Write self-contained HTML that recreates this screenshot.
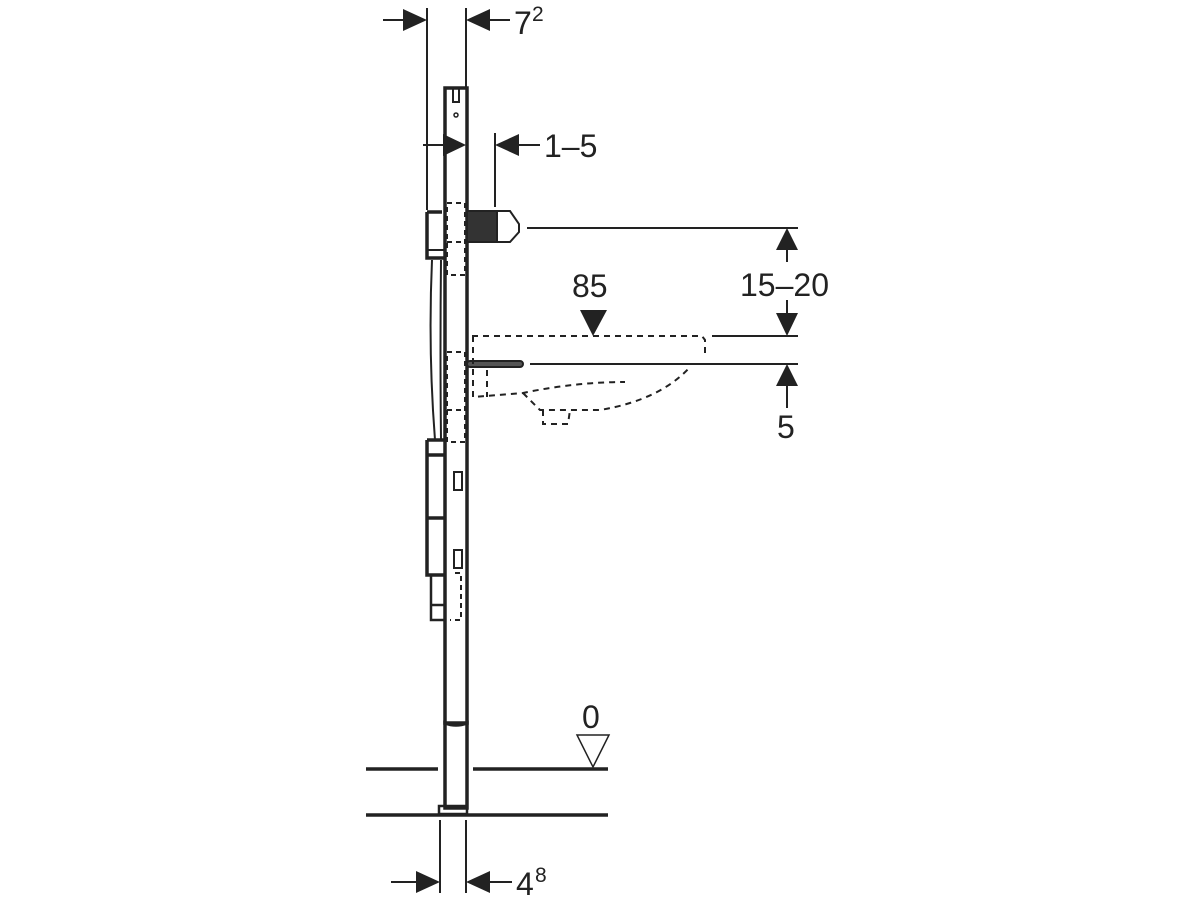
<!DOCTYPE html>
<html><head><meta charset="utf-8"><style>
html,body{margin:0;padding:0;background:#fff}
svg{display:block}
text{font-family:"Liberation Sans",sans-serif;fill:#222}
</style></head><body>
<svg width="1200" height="900" viewBox="0 0 1200 900" xmlns="http://www.w3.org/2000/svg">
<g stroke="#222" fill="none">
<line x1="427" y1="8" x2="427" y2="210" stroke-width="2"/>
<line x1="466" y1="8" x2="466" y2="88" stroke-width="2"/>
<line x1="383" y1="20" x2="405" y2="20" stroke-width="2"/>
<line x1="488" y1="20" x2="510" y2="20" stroke-width="2"/>
<line x1="423" y1="145" x2="445" y2="145" stroke-width="2"/>
<line x1="495" y1="133" x2="495" y2="207" stroke-width="2"/>
<line x1="517" y1="145" x2="540" y2="145" stroke-width="2"/>
<rect x="445" y="88" width="22" height="635" stroke-width="3.5"/>
<path d="M453 88 L453 102 L459 102 L459 88" stroke-width="2"/>
<circle cx="456" cy="115" r="2" stroke-width="1.5"/>
<path d="M445 723 Q456 727 467 723 L467 808 L445 808 Z" stroke-width="3.5"/>
<rect x="439" y="806" width="28" height="8" stroke-width="2.5"/>
<g stroke-dasharray="5,4" stroke-width="2">
<rect x="447" y="203" width="18" height="72"/>
<line x1="447" y1="242" x2="465" y2="242"/>
<rect x="447" y="352" width="18" height="90"/>
<line x1="447" y1="410" x2="465" y2="410"/>
<path d="M455 573 L461 573 L461 620 L450 620"/>
</g>
<path d="M427 212 L427 258 L445 258 M427 212 L442 212" stroke-width="3.5"/>
<path d="M428 250 L445 250" stroke-width="2"/>
<path d="M432 260 Q428 350 435 440 M441 260 Q440 350 441 440" stroke-width="2"/>
<path d="M427 440 L427 575 L445 575 M427 440 L445 440 M427 455 L445 455 M427 518 L445 518" stroke-width="3.5"/>
<path d="M431 575 L431 620 L445 620 M431 605 L445 605" stroke-width="2.5"/>
<rect x="454" y="472" width="8" height="18" stroke-width="2"/>
<rect x="454" y="550" width="8" height="18" stroke-width="2"/>
<rect x="467" y="211" width="30" height="31" fill="#333" stroke-width="2"/>
<path d="M497 211 L510 211 L519 224 L519 232 L510 242 L497 242 Z" fill="#fff" stroke-width="2"/>
<line x1="527" y1="228" x2="798" y2="228" stroke-width="2"/>
<rect x="467" y="361" width="56" height="6" rx="3" fill="#555" stroke-width="2"/>
<line x1="530" y1="364" x2="798" y2="364" stroke-width="2"/>
<line x1="712" y1="336" x2="798" y2="336" stroke-width="2"/>
<g stroke-dasharray="6,5" stroke-width="2">
<path d="M472 336 L702 336 L705 340 L705 358"/>
<path d="M473 336 L473 397 L523 393 Q575 382 625 382"/>
<path d="M487 370 L487 397"/>
<path d="M523 393 L540 410 L600 410 Q660 400 690 367"/>
<path d="M543 410 L543 424 L568 424 L570 410"/>
</g>
<line x1="787" y1="250" x2="787" y2="262" stroke-width="2"/>
<line x1="787" y1="300" x2="787" y2="313" stroke-width="2"/>
<line x1="787" y1="386" x2="787" y2="408" stroke-width="2"/>
<line x1="366" y1="769" x2="438" y2="769" stroke-width="3.5"/>
<line x1="473" y1="769" x2="608" y2="769" stroke-width="3.5"/>
<line x1="366" y1="815" x2="608" y2="815" stroke-width="3.5"/>
<path d="M577 735 L609 735 L593 767 Z" stroke-width="1.5"/>
<line x1="440" y1="820" x2="440" y2="893" stroke-width="2"/>
<line x1="466" y1="820" x2="466" y2="893" stroke-width="2"/>
<line x1="391" y1="882" x2="418" y2="882" stroke-width="2"/>
<line x1="488" y1="882" x2="512" y2="882" stroke-width="2"/>
</g>
<g fill="#222">
<path d="M403 9 L427 20 L403 31 Z"/>
<path d="M490 9 L466 20 L490 31 Z"/>
<path d="M443 134 L466 145 L443 156 Z"/>
<path d="M519 134 L495 145 L519 156 Z"/>
<path d="M776 250 L787 228 L798 250 Z"/>
<path d="M776 313 L787 336 L798 313 Z"/>
<path d="M776 386 L787 364 L798 386 Z"/>
<path d="M580 310 L607 310 L593 336 Z"/>
<path d="M416 871 L440 882 L416 893 Z"/>
<path d="M490 871 L466 882 L490 893 Z"/>
</g>
<text x="514" y="34" font-size="32">7</text><text x="532" y="21" font-size="21">2</text>
<text x="544" y="157" font-size="32">1–5</text>
<text x="740" y="296" font-size="32">15–20</text>
<text x="572" y="297" font-size="32">85</text>
<text x="777" y="438" font-size="32">5</text>
<text x="582" y="728" font-size="32">0</text>
<text x="516" y="895" font-size="32">4</text><text x="535" y="882" font-size="21">8</text>
</svg>
</body></html>
